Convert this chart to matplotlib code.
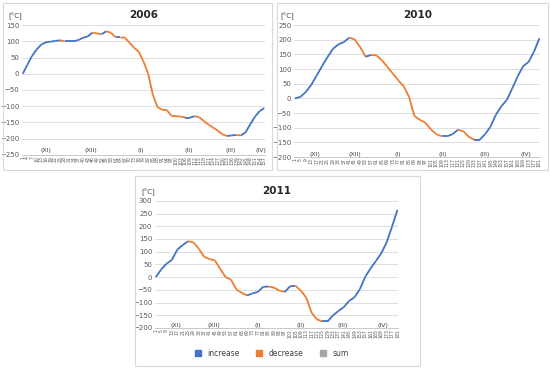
import matplotlib.pyplot as plt
from matplotlib.patches import Rectangle
from matplotlib.lines import Line2D
import numpy as np

# cumulative values read at each labelled day
days_2006 = list(range(1, 158, 3))
cum_2006 = [0, 28, 55, 75, 90, 97, 99, 101, 103, 100, 100, 100, 104, 111, 115, 127, 124, 122,
            131, 126, 112, 112, 111, 95, 80, 67, 37, 0, -65, -103, -111, -112, -130, -131, -132,
            -135, -135, -131, -134, -146, -157, -166, -176, -187, -192, -190, -189, -190, -180,
            -155, -132, -115, -106]

days_2010 = list(range(1, 182, 4))
cum_2010 = [0, 5, 22, 46, 78, 110, 141, 169, 184, 192, 207, 201, 175, 142, 148, 147, 130, 108,
            85, 62, 42, 5, -60, -73, -83, -105, -122, -129, -129, -122, -107, -112, -131, -141,
            -141, -122, -96, -55, -27, -5, 34, 75, 110, 124, 159, 205]

days_2011 = list(range(1, 182, 4))
cum_2011 = [0, 30, 53, 68, 108, 126, 141, 137, 112, 80, 71, 66, 32, 0, -10, -48, -62, -72, -64,
            -58, -38, -37, -41, -53, -58, -36, -34, -53, -80, -140, -166, -174, -174, -150, -133,
            -118, -93, -79, -47, 2, 35, 64, 95, 138, 200, 265]

months = ['(XI)', '(XII)', '(I)', '(II)', '(III)', '(IV)']
month_pos_2006 = [16, 45, 77, 108, 135, 155]
month_pos_2010 = [16, 45, 77, 110, 141, 171]
month_pos_2011 = [16, 44, 77, 109, 140, 170]

BLUE = '#4472C4'
ORANGE = '#ED7D31'
GRAY = '#A5A5A5'

fig = plt.figure(figsize=(5.5, 3.74), dpi=100)
fig.patch.set_facecolor('white')

# panel frames
for (x0, y0, x1, y1) in [(3, 3, 272, 170), (277, 3, 548, 170), (135, 176, 420, 366)]:
    fig.add_artist(Rectangle((x0 / 550, 1 - y1 / 374), (x1 - x0) / 550, (y1 - y0) / 374,
                             transform=fig.transFigure, fill=False, edgecolor='#D9D9D9', lw=0.8))


def panel(rect, days, cum, title, ylim, month_pos, month_y):
    ax = fig.add_axes(rect)
    for i in range(1, len(days)):
        c = BLUE if cum[i] >= cum[i - 1] else ORANGE
        ax.plot(days[i - 1:i + 1], cum[i - 1:i + 1], color=c, lw=1.3, solid_capstyle='butt')
    ax.set_xlim(days[0] - 0.5, days[-1] + 0.5)
    ax.set_ylim(*ylim)
    ax.set_yticks(np.arange(ylim[0], ylim[1] + 1, 50))
    ax.yaxis.grid(True, color='#D9D9D9', lw=0.6)
    ax.set_axisbelow(True)
    for s in ['top', 'right', 'left']:
        ax.spines[s].set_visible(False)
    ax.spines['bottom'].set_color('#BFBFBF')
    ax.spines['bottom'].set_linewidth(0.6)
    ax.set_xticks(days)
    ax.set_xticklabels([str(d) for d in days], rotation=90, fontsize=3.3, color='#595959')
    ax.tick_params(axis='x', length=0, pad=1)
    ax.tick_params(axis='y', length=0, labelsize=5, colors='#595959', pad=2)
    ax.set_title(title, fontsize=7.5, fontweight='bold', pad=5, color='#262626')
    ax.text(0.0, 1.04, '[°C]', transform=ax.transAxes, fontsize=5, ha='right', va='bottom',
            color='#404040')
    for m, p in zip(months, month_pos):
        ax.text(p, month_y, m, fontsize=4.5, ha='center', va='center', color='#404040')
    return ax


panel([0.040, 0.586, 0.442, 0.347], days_2006, cum_2006, '2006', (-250, 150),
      month_pos_2006, -237)
panel([0.535, 0.580, 0.447, 0.353], days_2010, cum_2010, '2010', (-200, 250),
      month_pos_2010, -191)
panel([0.282, 0.123, 0.442, 0.340], days_2011, cum_2011, '2011', (-200, 300),
      month_pos_2011, -191)

handles = [Line2D([], [], marker='s', ls='', color=BLUE, markersize=4),
           Line2D([], [], marker='s', ls='', color=ORANGE, markersize=4),
           Line2D([], [], marker='s', ls='', color=GRAY, markersize=4)]
fig.legend(handles, ['increase', 'decrease', 'sum'], loc='center', ncol=3,
           bbox_to_anchor=(0.49, 1 - 353 / 374), frameon=False, fontsize=5.5,
           handletextpad=0.3, columnspacing=1.5, labelcolor='#404040')

fig.savefig('out.png', dpi=100)
